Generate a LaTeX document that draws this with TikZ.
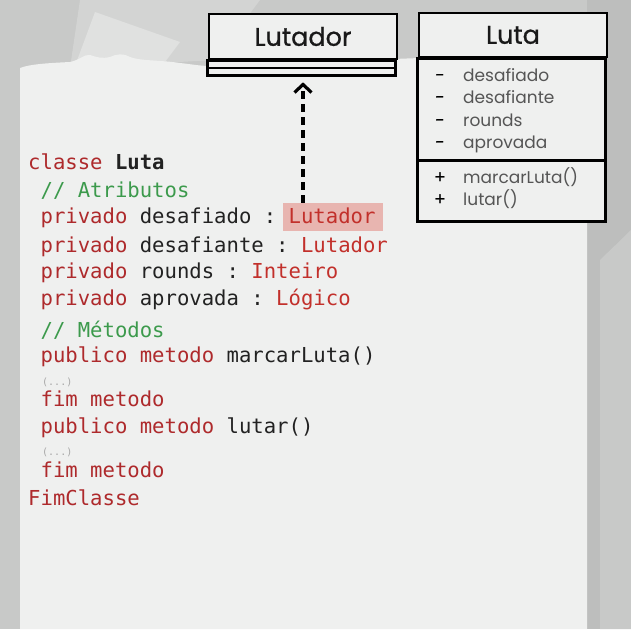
\documentclass[tikz,border=0pt]{standalone}
\usepackage{fontspec}
\setmonofont{DejaVu Sans Mono}
\newfontfamily\umlfont{Poppins}
\newfontfamily\umltitlefont[FakeBold=0.9]{Poppins}
\usetikzlibrary{arrows.meta}
\definecolor{bgA}{HTML}{C8C9C8}
\definecolor{bgB}{HTML}{D3D4D3}
\definecolor{bgC}{HTML}{BDBEBD}
\definecolor{paper}{HTML}{EFF0EF}
\definecolor{kw}{HTML}{AE2A2C}
\definecolor{typ}{HTML}{C2302B}
\definecolor{cmt}{HTML}{3C9A4C}
\definecolor{txt}{HTML}{222222}
\definecolor{hlfill}{HTML}{E8B5B0}
\definecolor{umltxt}{HTML}{555555}
\definecolor{dots}{HTML}{A8A8A8}
\tikzset{
  code/.style={anchor=base west, inner sep=0pt, font=\ttfamily\fontsize{20.6}{24}\selectfont, text=txt},
  small/.style={anchor=base west, inner sep=0pt, font=\ttfamily\fontsize{10}{12}\selectfont, text=dots},
  umltitle/.style={draw=black, line width=2.6pt, fill=paper, minimum width=188pt, inner sep=0pt, font=\umltitlefont\fontsize{25.5}{28}\selectfont, text=black!90},
  umlbox/.style={draw=black, line width=2.6pt, fill=paper},
  member/.style={anchor=base west, inner sep=0pt, font=\umlfont\fontsize{17}{20}\selectfont, text=umltxt},
  sign/.style={anchor=base, inner sep=0pt, font=\umltitlefont\fontsize{17}{20}\selectfont, text=black},
  dep/.style={line width=3.6pt, dash pattern=on 8pt off 5pt, -{Straight Barb[length=8pt,width=17pt,line width=3.2pt]}}
}
\begin{document}
\begin{tikzpicture}[x=1pt,y=-1pt]
\useasboundingbox (0,0) rectangle (631,629);
% background
\fill[bgA] (0,0) rectangle (631,629);
\fill[bgB] (80,0) -- (260,0) -- (215,60) -- (70,68) -- cycle;
\fill[bgB!70!white] (95,12) -- (180,42) -- (165,62) -- (75,66) -- cycle;
\fill[bgC] (587,0) rectangle (631,629);
\fill[bgB!50!bgC] (600,260) -- (631,230) -- (631,629) -- (600,629) -- cycle;
% paper
\fill[paper] (20,629) -- (20,68) .. controls (30,64) and (50,63) .. (70,62)
  .. controls (80,60) and (84,54) .. (90,55) .. controls (96,57) and (102,59) .. (110,57)
  .. controls (116,54) and (124,53) .. (130,57) .. controls (140,61) and (160,60) .. (180,63)
  .. controls (190,64) and (200,66) .. (210,66) -- (420,58) -- (587,58) -- (587,629) -- cycle;
% highlight behind type
\node[fill=hlfill, inner sep=0pt, minimum width=100pt, minimum height=28pt] (hl) at (333,217) {};
% code text
\node[code] (c1) at (28,169) {\textcolor{kw}{classe} \textbf{Luta}};
\node[code] (c2) at (40.4,197) {\textcolor{cmt}{// Atributos}};
\node[code] (c3) at (40.4,223) {\textcolor{kw}{privado} desafiado : \textcolor{typ}{Lutador}};
\node[code] (c4) at (40.4,252) {\textcolor{kw}{privado} desafiante : \textcolor{typ}{Lutador}};
\node[code] (c5) at (40.4,278) {\textcolor{kw}{privado} rounds : \textcolor{typ}{Inteiro}};
\node[code] (c6) at (40.4,305) {\textcolor{kw}{privado} aprovada : \textcolor{typ}{Lógico}};
\node[code] (c7) at (40.4,337) {\textcolor{cmt}{// Métodos}};
\node[code] (c8) at (40.4,362) {\textcolor{kw}{publico metodo} marcarLuta()};
\node[small] (c9) at (42,385) {(...)};
\node[code] (c10) at (40.4,406) {\textcolor{kw}{fim metodo}};
\node[code] (c11) at (40.4,433) {\textcolor{kw}{publico metodo} lutar()};
\node[small] (c12) at (42,455) {(...)};
\node[code] (c13) at (40.4,477) {\textcolor{kw}{fim metodo}};
\node[code] (c14) at (28,505) {\textcolor{kw}{FimClasse}};
% Lutador class
\node[umltitle, minimum height=45pt] (lut) at (303,36.5) {Lutador};
\draw[umlbox] (lut.south west) rectangle ++(188,7.5);
\draw[umlbox] ([yshift=-7.5pt]lut.south west) rectangle ++(188,7.5);
\coordinate (lutbot) at ([yshift=-15pt]lut.south);
% Luta class
\node[umltitle, minimum height=44pt] (luta) at (513,35) {Luta};
\draw[umlbox] (luta.south west) rectangle ++(188,102);
\draw[umlbox] ([yshift=-102pt]luta.south west) rectangle ++(188,61);
\node[sign] (s1) at (440,81) {-};
\node[member] (m1) at (463,81) {desafiado};
\node[sign] (s2) at (440,103) {-};
\node[member] (m2) at (463,103) {desafiante};
\node[sign] (s3) at (440,126) {-};
\node[member] (m3) at (463,126) {rounds};
\node[sign] (s4) at (440,148) {-};
\node[member] (m4) at (463,148) {aprovada};
\node[sign] (s5) at (440,183) {+};
\node[member] (m5) at (463,183) {marcarLuta()};
\node[sign] (s6) at (440,205) {+};
\node[member] (m6) at (463,205) {lutar()};
% dependency arrow
\draw[dep, shorten >=7pt] (hl.north -| lut.south) -- (lutbot);
\end{tikzpicture}
\end{document}
